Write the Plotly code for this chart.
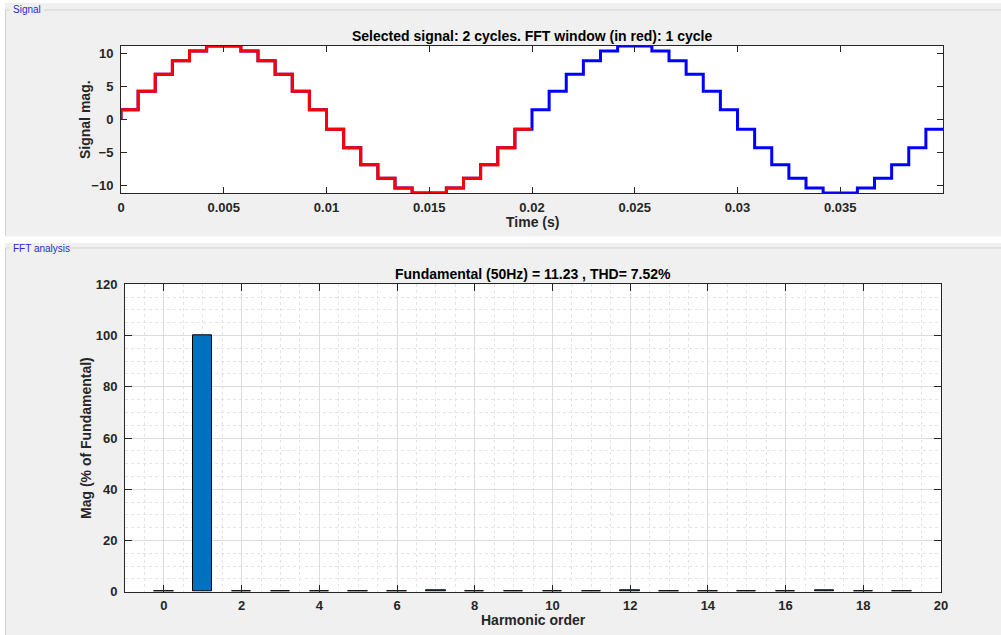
import plotly.graph_objects as go

# ---------------- data ----------------
# Stepped signal: held sample levels, one level per sampling interval
sample_period = 1 / 1200.0          # s, width of each stair step
cycle1_levels = [1.47, 4.30, 6.84, 8.91, 10.38, 11.13, 11.13, 10.38, 8.91, 6.84, 4.30, 1.47,
                 -1.47, -4.30, -6.84, -8.91, -10.38, -11.13, -11.13, -10.38, -8.91, -6.84, -4.30, -1.47]
cycle2_levels = [1.47, 4.30, 6.84, 8.91, 10.38, 11.13, 11.13, 10.38, 8.91, 6.84, 4.30, 1.47,
                 -1.47, -4.30, -6.84, -8.91, -10.38, -11.13, -11.13, -10.38, -8.91, -6.84, -4.30, -1.47]
start_value = 0.0
signal_end = 0.04                     # s

time_ticks = [0, 0.005, 0.01, 0.015, 0.02, 0.025, 0.03, 0.035]
time_tick_text = ["0", "0.005", "0.01", "0.015", "0.02", "0.025", "0.03", "0.035"]

# Harmonic spectrum, % of fundamental
harmonic_order = list(range(20))
harmonic_mag = [0.02, 100, 0.25, 0.03, 0.25, 0.10, 0.20, 0.40, 0.03, 0.12,
                0.25, 0.03, 0.45, 0.03, 0.25, 0.10, 0.03, 0.40, 0.25, 0.06]

fundamental = 11.23
thd = 7.52

# ---------------- build stair traces ----------------
all_levels = cycle1_levels + cycle2_levels
t_full = [0.0] + [k * sample_period for k in range(len(all_levels))] + [signal_end]
y_full = [start_value] + all_levels + [all_levels[-1]]

n1 = len(cycle1_levels)
t_win = [0.0] + [k * sample_period for k in range(n1)] + [n1 * sample_period]
y_win = [start_value] + cycle1_levels + [cycle1_levels[-1]]

W, H = 1001, 635


def px(x):
    return x / W


def py(y):
    return 1 - y / H


FONT = "Liberation Sans, Arial, Helvetica, sans-serif"
DARK = "#262626"

fig = go.Figure()

fig.add_trace(go.Scatter(x=t_full, y=y_full, mode="lines", line_shape="hv",
                         line=dict(color="#0000ff", width=3), xaxis="x", yaxis="y",
                         showlegend=False, hoverinfo="skip"))
fig.add_trace(go.Scatter(x=t_win, y=y_win, mode="lines", line_shape="hv",
                         line=dict(color="#ff0000", width=3), xaxis="x", yaxis="y",
                         showlegend=False, hoverinfo="skip"))

fig.add_trace(go.Bar(x=harmonic_order, y=harmonic_mag, width=0.5,
                     marker=dict(color="#0072bd", line=dict(color="#000000", width=1)),
                     xaxis="x2", yaxis="y2", showlegend=False, hoverinfo="skip"))

tickfont = dict(family=FONT, size=13, color=DARK, weight="bold")

common_axis = dict(showline=True, linecolor=DARK, linewidth=1, mirror="allticks",
                   ticks="inside", tickcolor=DARK, tickwidth=1,
                   tickfont=tickfont, zeroline=False, automargin=False)

fig.update_layout(
    width=W, height=H,
    margin=dict(l=0, r=0, t=0, b=0, pad=0, autoexpand=False),
    paper_bgcolor="#f0f0f0",
    plot_bgcolor="#ffffff",
    bargap=0,
    xaxis=dict(domain=[px(121), px(943)], range=[0, 0.04], anchor="y",
               tickvals=time_ticks, ticktext=time_tick_text, ticklen=6,
               showgrid=False, ticklabelstandoff=2, **common_axis),
    yaxis=dict(domain=[py(193), py(46)], range=[-11.14, 11.14], anchor="x",
               tickvals=[-10, -5, 0, 5, 10], ticklen=6, showgrid=False,
               ticklabelstandoff=4, **common_axis),
    xaxis2=dict(domain=[px(125), px(941)], range=[-1, 20], anchor="y2",
                tickvals=list(range(0, 21, 2)), ticklen=7,
                showgrid=True, gridcolor="#dcdcdc", gridwidth=1,
                minor=dict(dtick=0.5, tick0=0, showgrid=True, gridcolor="#e4e4e4",
                           griddash="dot", gridwidth=1, ticks=""),
                ticklabelstandoff=2, **common_axis),
    yaxis2=dict(domain=[py(591.7), py(284.3)], range=[0, 120], anchor="x2",
                tickvals=list(range(0, 121, 20)), ticklen=7,
                showgrid=True, gridcolor="#dcdcdc", gridwidth=1,
                minor=dict(dtick=5, tick0=0, showgrid=True, gridcolor="#e4e4e4",
                           griddash="dot", gridwidth=1, ticks=""),
                ticklabelstandoff=4, **common_axis),
)

# ---------------- window frame: white gaps and etched panel borders ----------------
shapes = []
for x0, y0, x1, y1 in [(0, 0, 1001, 3), (0, 0, 5, 635), (0, 236.5, 1001, 243)]:
    shapes.append(dict(type="rect", xref="paper", yref="paper",
                       x0=px(x0), x1=px(x1), y0=py(y1), y1=py(y0),
                       fillcolor="#ffffff", line=dict(width=0), layer="below"))
border = "#d2d2d2"
for x0, y0, x1, y1 in [(5.5, 10, 10, 10), (44, 10, 1001, 10), (5.5, 10, 5.5, 236),
                       (5.5, 248, 10, 248), (71, 248, 1001, 248), (5.5, 248, 5.5, 635)]:
    shapes.append(dict(type="line", xref="paper", yref="paper",
                       x0=px(x0), x1=px(x1), y0=py(y0), y1=py(y1),
                       line=dict(color=border, width=1), layer="below"))
fig.update_layout(shapes=shapes)

# ---------------- text ----------------
title_font = dict(family=FONT, size=14, color="#000000", weight="bold")
label_font = dict(family=FONT, size=14, color=DARK, weight="bold")
panel_font = dict(family=FONT, size=10, color="#2a2ad0")


def note(text, x, y, font, angle=0, xanchor="center"):
    fig.add_annotation(text=text, x=px(x), y=py(y), xref="paper", yref="paper",
                       showarrow=False, font=font, textangle=angle,
                       xanchor=xanchor, yanchor="middle")


note("Signal", 11, 10, panel_font, xanchor="left")
note("FFT analysis", 11, 248, panel_font, xanchor="left")
note("Selected signal: 2 cycles. FFT window (in red): 1 cycle", 532, 36, title_font)
note("Time (s)", 532, 222, label_font)
note("Signal mag.", 85, 120, label_font, angle=-90)
note(f"Fundamental (50Hz) = {fundamental:.2f} , THD= {thd:.2f}%", 533, 274, title_font)
note("Harmonic order", 533, 620, label_font)
note("Mag (% of Fundamental)", 86, 438, label_font, angle=-90)

fig.write_html("out.html")
